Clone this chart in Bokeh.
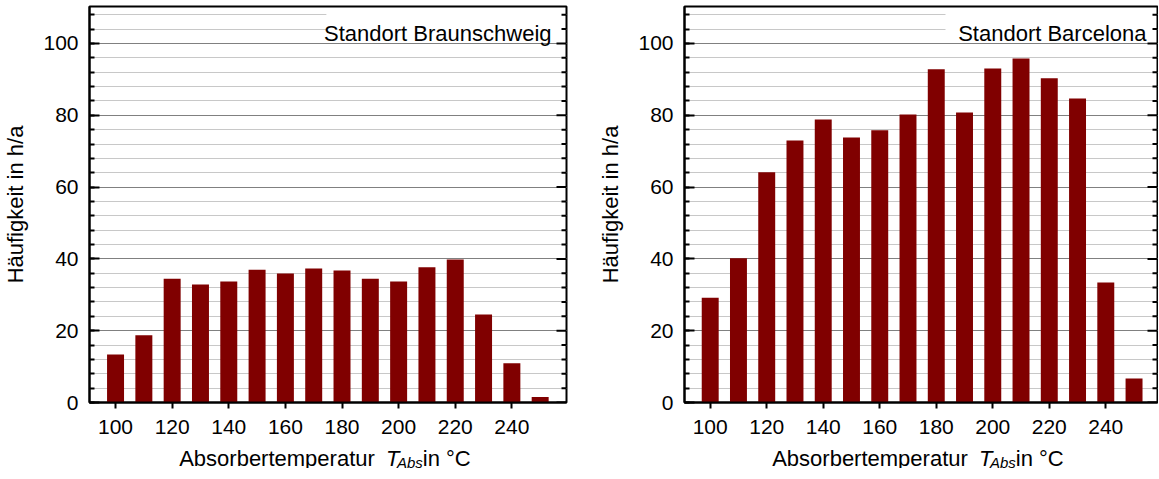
import math
from bokeh.plotting import figure
from bokeh.layouts import row, column
from bokeh.models import Range1d, SingleIntervalTicker, Label, BoxAnnotation
from bokeh.embed import file_html
from bokeh.resources import INLINE

# ---------------- data ----------------
temps = [100, 110, 120, 130, 140, 150, 160, 170, 180, 190, 200, 210, 220, 230, 240, 250]
braunschweig = [13.4, 18.7, 34.5, 32.9, 33.7, 37.0, 35.9, 37.3, 36.8, 34.5, 33.7, 37.7, 39.8, 24.5, 10.9, 1.5]
barcelona = [29.2, 40.2, 64.1, 73.0, 78.8, 73.8, 75.8, 80.2, 92.8, 80.8, 93.0, 95.8, 90.3, 84.7, 33.4, 6.7]
x_tick_values = [100, 120, 140, 160, 180, 200, 220, 240]
y_tick_values = [0, 20, 40, 60, 80, 100]
titles = ["Standort Braunschweig", "Standort Barcelona"]
y_label = "Häufigkeit in h/a"
x_label_parts = ["Absorbertemperatur ", "T", "Abs", " in °C"]

FONT = "Liberation Sans"
BAR_COLOR = "#800000"

# Arial / Liberation Sans advance widths (per 1000 em)
ADV = {'A': 667, 'b': 556, 's': 500, 'o': 556, 'r': 333, 'e': 556, 't': 278, 'm': 833,
       'p': 556, 'a': 556, 'u': 556, ' ': 278, 'T': 611, 'i': 222, 'n': 556, '°': 400, 'C': 722}


def text_w(s, size):
    return sum(ADV.get(c, 556) for c in s) / 1000.0 * size


TOP = 6
FRAME_H = 396
BOTTOM = 30
AXIS_PAD = 8          # extra space the axis panels take beyond min_border (measured)
Y0, Y1 = 0, 110.3
LEFT_B = 81
MAJ = 20
N_MINOR = 5
minor_step = MAJ / N_MINOR
right_major = list(y_tick_values)
right_minor = [i * minor_step for i in range(int(Y1 / minor_step) + 1)
               if (i * minor_step) % MAJ != 0]


def make(values, title, frame_w, x0, x1, border_right, title_right_gap, box_pad):
    p = figure(output_backend="svg", toolbar_location=None,
               frame_width=frame_w, frame_height=FRAME_H,
               x_range=Range1d(x0, x1), y_range=Range1d(Y0, Y1),
               min_border_left=LEFT_B, min_border_right=border_right,
               min_border_top=TOP, min_border_bottom=BOTTOM,
               background_fill_color="white", border_fill_color="white",
               outline_line_color="black", outline_line_width=2)
    p.margin = (0, 0, 0, 0)
    sx = frame_w / (x1 - x0)
    sy = FRAME_H / (Y1 - Y0)

    p.vbar(x=temps, top=values, width=6, fill_color=BAR_COLOR, line_color=None)

    xt = SingleIntervalTicker(interval=MAJ, num_minor_ticks=0)
    yt = SingleIntervalTicker(interval=MAJ, num_minor_ticks=N_MINOR)
    xa = p.xaxis[0]
    xa.ticker = xt
    xa.axis_label = None
    xa.major_tick_in = 0
    xa.major_tick_out = 6
    xa.minor_tick_line_color = None
    xa.major_tick_line_width = 2
    xa.axis_line_width = 2
    xa.major_label_text_font = FONT
    xa.major_label_text_font_size = "21px"
    xa.major_label_text_color = "black"
    xa.major_label_standoff = 11

    ya = p.yaxis[0]
    ya.ticker = yt
    ya.major_tick_in = 10
    ya.major_tick_out = 0
    ya.minor_tick_in = 5
    ya.minor_tick_out = 0
    ya.major_tick_line_width = 2
    ya.minor_tick_line_width = 2
    ya.axis_line_width = 2
    ya.major_label_text_font = FONT
    ya.major_label_text_font_size = "21px"
    ya.major_label_text_color = "black"
    ya.major_label_standoff = 11
    ya.axis_label = y_label
    ya.axis_label_text_font = FONT
    ya.axis_label_text_font_size = "22px"
    ya.axis_label_text_font_style = "normal"
    ya.axis_label_text_color = "black"
    ya.axis_label_standoff = 12

    p.xgrid.visible = False
    p.ygrid.ticker = yt
    p.ygrid.grid_line_color = "#808080"
    p.ygrid.grid_line_width = 1
    p.ygrid.minor_grid_line_color = "#c8c8c8"
    p.ygrid.minor_grid_line_width = 1

    # inward ticks on the right frame edge
    p.ray(x=[x1] * len(right_major), y=right_major, length=10, length_units="screen",
          angle=math.pi, line_color="black", line_width=2)
    p.ray(x=[x1] * len(right_minor), y=right_minor, length=5, length_units="screen",
          angle=math.pi, line_color="black", line_width=2)

    # title box (white, covering gridlines but not the frame outline)
    t_size = 22
    tw = text_w(title, t_size)
    text_right_px = frame_w - title_right_gap
    box_left = x0 + (text_right_px - tw - box_pad) / sx
    p.add_layout(BoxAnnotation(left=box_left, right=x1 - 1.5 / sx,
                               bottom=100.5, top=Y1 - 1.5 / sy,
                               fill_color="white", fill_alpha=1.0, line_color=None,
                               level="underlay"))
    p.add_layout(Label(x=x0 + text_right_px / sx, y=Y1 - 27.0 / sy, text=title,
                       text_align="right", text_baseline="alphabetic",
                       text_font=FONT, text_font_size=f"{t_size}px", text_color="black"))
    return p


def make_xlabel(total_w, center_px):
    h = 32
    lp = figure(output_backend="svg", toolbar_location=None, title=None,
                width=int(total_w), height=h,
                x_range=Range1d(0, total_w), y_range=Range1d(0, h),
                min_border=0, min_border_left=0, min_border_right=0,
                min_border_top=0, min_border_bottom=0,
                outline_line_color=None, background_fill_color="white",
                border_fill_color="white")
    lp.margin = (0, 0, 0, 0)
    lp.axis.visible = False
    lp.grid.visible = False
    sizes = [22, 22, 15, 22]
    styles = ["normal", "italic", "italic", "normal"]
    drops = [0, 0, 4, 0]
    kern = [5, -2.4, 0, 0]
    widths = [text_w(s, z) for s, z in zip(x_label_parts, sizes)]
    total = sum(widths) + sum(kern)
    cur = center_px - total / 2.0
    base_from_top = 22
    for s, z, st, d, w, k in zip(x_label_parts, sizes, styles, drops, widths, kern):
        lp.add_layout(Label(x=cur, y=h - base_from_top - d, text=s,
                            text_align="left", text_baseline="alphabetic",
                            text_font=FONT, text_font_size=f"{z}px",
                            text_font_style=st, text_color="black"))
        cur += w + k
    return lp


FW1, FW2 = 477, 473
R1, R2 = 29, 1
p1 = make(braunschweig, titles[0], FW1, 90.8, 259.3, R1, 15, 5)
p2 = make(barcelona, titles[1], FW2, 90.9, 258.3, R2, 11, 9)

W1 = AXIS_PAD + LEFT_B + FW1 + R1
W2 = AXIS_PAD + LEFT_B + FW2 + R2
l1 = make_xlabel(W1, AXIS_PAD + LEFT_B + FW1 / 2.0)
l2 = make_xlabel(W2, AXIS_PAD + LEFT_B + FW2 / 2.0)

top_row = row(p1, p2, spacing=0)
bottom_row = row(l1, l2, spacing=0)
layout = column(top_row, bottom_row, spacing=0)
open("out.html", "w").write(file_html(layout, INLINE))
